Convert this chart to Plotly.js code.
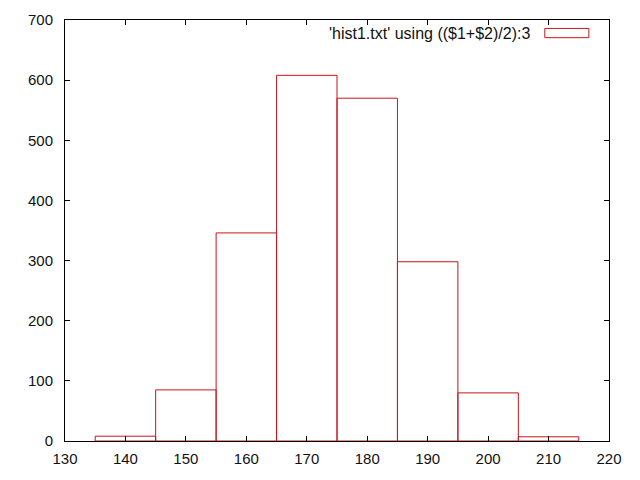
<!DOCTYPE html>
<html>
<head>
<meta charset="utf-8">
<script src="https://cdn.plot.ly/plotly-3.0.1.min.js"></script>
<style>html,body{margin:0;padding:0;background:#fff;}#chart{width:640px;height:480px;}</style>
</head>
<body>
<div id="chart"></div>
<script>
const binCenters = [140, 150, 160, 170, 180, 190, 200, 210];
const counts = [8, 85, 346, 608, 570, 298, 80, 7];
const binWidth = 10;
const legendLabel = "'hist1.txt' using (($1+$2)/2):3";
const xTicks = [130, 140, 150, 160, 170, 180, 190, 200, 210, 220];
const yTicks = [0, 100, 200, 300, 400, 500, 600, 700];

const red = '#c8141c';
const font = 'Liberation Sans, Arial, sans-serif';
const trace = {
  type: 'bar',
  x: binCenters,
  y: counts,
  width: binCenters.map(() => binWidth),
  marker: {color: 'rgba(0,0,0,0)', line: {color: red, width: 1}},
  showlegend: false,
  hoverinfo: 'x+y'
};

const axisCommon = {
  showgrid: false,
  zeroline: false,
  showline: true,
  linecolor: '#000',
  linewidth: 1,
  mirror: 'allticks',
  ticks: 'inside',
  ticklen: 5,
  tickcolor: '#000',
  tickfont: {family: font, size: 15, color: '#111'}
};

const layout = {
  width: 640, height: 480,
  margin: {l: 65, r: 31, t: 20, b: 39},
  paper_bgcolor: '#fff', plot_bgcolor: '#fff',
  bargap: 0,
  xaxis: Object.assign({}, axisCommon, {range: [130, 220], tickvals: xTicks, ticktext: xTicks.map(String), ticklabelstandoff: 4}),
  yaxis: Object.assign({}, axisCommon, {range: [0, 700], tickvals: yTicks, ticktext: yTicks.map(String), ticklabelstandoff: 8}),
  annotations: [{
    xref: 'paper', yref: 'paper', x: 0.859, y: 0.969, xanchor: 'right', yanchor: 'middle',
    text: legendLabel, showarrow: false,
    font: {family: font, size: 16, color: '#111'}
  }],
  shapes: [{
    type: 'rect', xref: 'paper', yref: 'paper',
    x0: 0.882, x1: 0.963, y0: 0.958, y1: 0.980,
    line: {color: red, width: 1}, fillcolor: 'rgba(0,0,0,0)'
  }]
};

Plotly.newPlot('chart', [trace], layout, {displayModeBar: false, staticPlot: true});
</script>
</body>
</html>
